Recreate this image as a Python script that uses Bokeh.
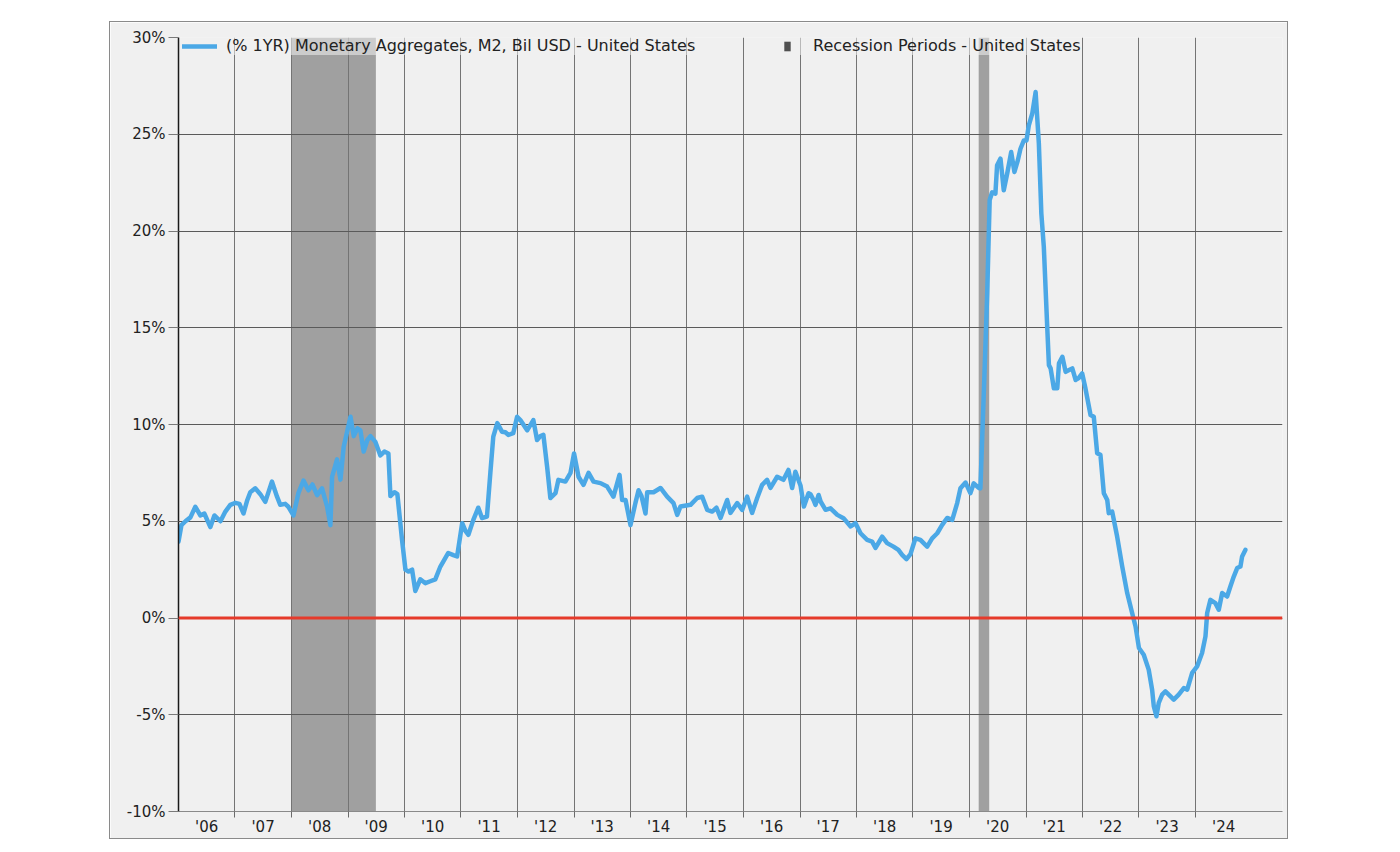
import re
import pandas as pd
from bokeh.plotting import figure
from bokeh.models import (Range1d, FixedTicker, CustomJSTickFormatter, Span,
                          Legend, LegendItem, ColumnDataSource)
from bokeh.embed import file_html
from bokeh.resources import INLINE

# ---------------- data ----------------
dates = [
    "2006-01-01", "2006-01-20", "2006-02-15", "2006-03-19", "2006-04-20", "2006-05-22", "2006-06-17",
    "2006-07-26", "2006-08-21", "2006-09-29", "2006-10-31", "2006-12-02",
    "2007-01-04", "2007-01-30", "2007-02-25", "2007-03-22", "2007-04-10", "2007-05-12", "2007-06-14",
    "2007-07-16", "2007-08-28", "2007-09-30", "2007-10-21", "2007-11-22", "2007-12-12",
    "2008-01-14", "2008-02-15", "2008-03-19", "2008-04-20", "2008-05-16", "2008-06-15", "2008-07-17",
    "2008-08-19", "2008-09-09", "2008-09-20", "2008-10-22", "2008-11-13", "2008-12-04",
    "2009-01-17", "2009-02-07", "2009-03-03", "2009-03-22", "2009-04-12", "2009-05-06", "2009-05-26",
    "2009-06-27", "2009-07-29", "2009-08-24", "2009-09-19", "2009-10-02", "2009-10-28", "2009-11-16",
    "2009-12-16",
    "2010-01-07", "2010-01-27", "2010-02-19", "2010-03-12", "2010-04-13", "2010-05-16", "2010-06-17",
    "2010-07-19", "2010-08-21", "2010-10-11", "2010-11-13", "2010-12-07",
    "2011-01-09", "2011-01-30", "2011-02-18", "2011-03-22", "2011-04-23", "2011-05-17", "2011-06-18",
    "2011-07-10", "2011-07-29", "2011-08-24", "2011-09-23", "2011-10-15", "2011-11-03", "2011-12-05",
    "2011-12-30",
    "2012-01-20", "2012-03-04", "2012-04-13", "2012-05-07", "2012-05-29", "2012-06-17", "2012-07-11",
    "2012-08-01", "2012-09-03", "2012-09-22", "2012-11-06", "2012-12-09",
    "2013-01-01", "2013-01-30", "2013-03-03", "2013-04-05", "2013-05-07", "2013-06-21", "2013-08-03",
    "2013-09-13", "2013-10-22", "2013-11-08", "2013-11-30",
    "2014-01-01", "2014-02-02", "2014-02-22", "2014-03-13", "2014-04-08", "2014-04-19", "2014-05-30",
    "2014-07-14", "2014-08-26", "2014-10-06", "2014-10-30", "2014-11-20",
    "2015-01-24", "2015-03-08", "2015-04-09", "2015-05-12", "2015-06-13", "2015-07-11", "2015-08-06",
    "2015-09-18", "2015-10-09", "2015-11-22", "2015-12-24",
    "2016-01-25", "2016-02-26", "2016-03-30", "2016-05-01", "2016-06-02", "2016-06-24", "2016-08-06",
    "2016-09-16", "2016-10-18", "2016-11-11", "2016-12-02",
    "2017-01-04", "2017-01-26", "2017-02-25", "2017-03-10", "2017-03-29", "2017-04-11", "2017-05-01",
    "2017-05-14", "2017-06-15", "2017-07-17", "2017-08-30", "2017-10-09", "2017-11-24", "2017-12-26",
    "2018-01-27", "2018-03-11", "2018-04-12", "2018-05-04", "2018-06-16", "2018-07-18", "2018-08-28",
    "2018-09-29", "2018-10-23", "2018-11-20", "2018-12-16",
    "2019-01-17", "2019-02-18", "2019-04-03", "2019-05-05", "2019-06-07", "2019-07-09", "2019-08-10",
    "2019-09-12", "2019-10-14", "2019-11-04", "2019-12-07",
    "2020-01-07", "2020-01-29", "2020-03-01", "2020-03-12", "2020-04-03", "2020-04-25", "2020-05-11",
    "2020-05-27", "2020-06-17", "2020-06-28", "2020-07-20", "2020-08-10", "2020-09-01", "2020-09-27",
    "2020-10-18", "2020-11-09", "2020-11-26", "2020-12-18",
    "2021-01-04", "2021-01-19", "2021-02-10", "2021-03-04", "2021-03-25", "2021-04-10", "2021-04-26",
    "2021-05-18", "2021-05-29", "2021-06-09", "2021-06-30", "2021-07-22", "2021-08-02", "2021-08-24",
    "2021-09-14", "2021-10-03", "2021-10-27", "2021-11-18", "2021-12-07", "2021-12-30",
    "2022-01-20", "2022-02-22", "2022-03-15", "2022-04-06", "2022-04-27", "2022-05-19", "2022-06-10",
    "2022-06-20", "2022-07-12", "2022-08-13", "2022-09-15", "2022-10-17", "2022-11-18", "2022-12-10",
    "2023-01-01", "2023-02-01", "2023-03-05", "2023-03-27", "2023-04-07", "2023-04-24", "2023-05-09",
    "2023-05-31", "2023-06-21", "2023-07-24", "2023-08-14", "2023-09-15", "2023-10-18", "2023-11-09",
    "2023-12-11",
    "2024-01-12", "2024-02-13", "2024-03-06", "2024-03-17", "2024-04-07", "2024-05-09", "2024-05-31",
    "2024-06-22", "2024-07-24", "2024-08-14", "2024-09-05", "2024-09-27", "2024-10-18", "2024-10-29",
    "2024-11-19",
]

m2_yoy = [
    3.95, 4.8, 5.0, 5.2, 5.75, 5.3, 5.4,
    4.7, 5.3, 5.0, 5.5, 5.85,
    5.95, 5.9, 5.4, 6.1, 6.5, 6.7, 6.4,
    6.0, 7.05, 6.27, 5.85, 5.9, 5.75,
    5.3, 6.45, 7.1, 6.6, 6.9, 6.35, 6.7,
    5.75, 4.8, 7.3, 8.2, 7.15, 8.85,
    10.4, 9.4, 9.8, 9.7, 8.6, 9.2, 9.4,
    9.1, 8.4, 8.6, 8.5, 6.3, 6.5, 6.4,
    4.04,
    2.5, 2.4, 2.5, 1.4, 2.0, 1.8, 1.9,
    2.0, 2.66, 3.36, 3.25, 3.18,
    4.9, 4.5, 4.3, 5.07, 5.7, 5.17, 5.24,
    7.5, 9.37, 10.07, 9.63, 9.6, 9.46, 9.55,
    10.4,
    10.23, 9.7, 10.23, 9.2, 9.4, 9.46, 7.82,
    6.2, 6.45, 7.14, 7.05, 7.5,
    8.5, 7.3, 6.88, 7.5, 7.05, 6.97, 6.79,
    6.27, 7.4, 6.1, 6.1,
    4.8, 5.95, 6.6, 6.3, 5.4, 6.5, 6.5,
    6.72, 6.27, 5.94, 5.33, 5.76,
    5.85, 6.2, 6.27, 5.59, 5.5, 5.7, 5.17,
    6.1, 5.43, 5.94, 5.59,
    6.27, 5.43, 6.2, 6.88, 7.14, 6.72, 7.3,
    7.14, 7.65, 6.72, 7.56,
    6.85, 5.76, 6.45, 6.4, 6.1, 5.85, 6.36,
    6.02, 5.59, 5.67, 5.33, 5.16, 4.73, 4.9,
    4.38, 4.04, 3.95, 3.62, 4.2, 3.87, 3.69,
    3.52, 3.26, 3.04, 3.3,
    4.12, 4.04, 3.69, 4.12, 4.38, 4.81, 5.17,
    5.07, 5.94, 6.7, 7.0,
    6.45, 6.96, 6.72, 6.7, 11.6, 16.77, 21.6,
    22.0, 21.93, 23.4, 23.74, 22.1, 22.96, 24.08,
    23.05, 23.65, 24.25, 24.68,
    24.68, 25.46, 26.06, 27.18, 24.5, 20.9, 19.18,
    15.05, 13.07, 12.9, 11.87, 11.87, 13.16, 13.5,
    12.72, 12.8, 12.9, 12.3, 12.4, 12.64,
    11.87, 10.49, 10.4, 8.51, 8.43, 6.45, 6.1,
    5.42, 5.5, 4.21, 2.66, 1.29, 0.26, -0.44,
    -1.55, -1.9, -2.67, -3.7, -4.56, -5.08, -4.39,
    -3.96, -3.79, -4.05, -4.22, -3.96, -3.62, -3.7,
    -2.84,
    -2.5, -1.81, -0.95, 0.26, 0.94, 0.77, 0.43,
    1.29, 1.11, 1.63, 2.14, 2.58, 2.66, 3.18,
    3.52,
]

recession_start = ["2007-12-31", "2020-03-01"]
recession_end = ["2009-06-30", "2020-05-08"]

label_years = list(range(2006, 2025))      # '06 ... '24
grid_years = list(range(2007, 2025))       # vertical grid at year starts
y_ticks = [-10, -5, 0, 5, 10, 15, 20, 25, 30]

series_label = "(% 1YR) Monetary Aggregates, M2, Bil USD - United States"
recession_label = "Recession Periods - United States"

# ---------------- figure ----------------
def ms(ts):
    return pd.Timestamp(ts).timestamp() * 1000.0

FONT = "DejaVu Sans"
PANEL = "#f0f0f0"

p = figure(
    width=1177, height=816,
    x_axis_type="datetime",
    x_range=Range1d(pd.Timestamp("2006-01-01"), pd.Timestamp("2025-07-17")),
    y_range=Range1d(-10, 30),
    output_backend="svg", toolbar_location=None,
    min_border_left=68, min_border_right=5, min_border_top=15, min_border_bottom=26,
    background_fill_color=PANEL, border_fill_color=PANEL,
    margin=(22, 0, 0, 110),
    styles={"outline": "1px solid #8a8a8a"},
)
p.outline_line_color = None

# recession shading (behind grid)
rec_src = ColumnDataSource(dict(
    left=pd.to_datetime(recession_start), right=pd.to_datetime(recession_end),
    bottom=[-10] * len(recession_start), top=[30] * len(recession_start)))
p.quad(left="left", right="right", bottom="bottom", top="top", source=rec_src,
       fill_color="#a0a0a0", line_color=None, level="image")

# zero-width proxy over the same periods, used only for the legend swatch
rec_proxy = p.quad(left="left", right="left", bottom="bottom", top="top", source=rec_src,
                   fill_color="#505050", line_color=None, level="image")

# main series
src = ColumnDataSource(dict(x=pd.to_datetime(dates), y=m2_yoy))
line_r = p.line("x", "y", source=src, line_color="#4ba8e6", line_width=4.5,
                line_join="round", line_cap="round")

# zero line
p.add_layout(Span(location=0, dimension="width", line_color="#e53a2b", line_width=3))

# ---------------- axes & grid ----------------
xaxis = p.xaxis[0]
xaxis.ticker = FixedTicker(ticks=[ms(f"{y}-07-02") for y in label_years],
                           minor_ticks=[ms(f"{y}-01-01") for y in grid_years])
xaxis.formatter = CustomJSTickFormatter(
    code="const d = new Date(tick); return \"'\" + String(d.getUTCFullYear()).slice(2);")
xaxis.major_tick_out = 0
xaxis.major_tick_in = 0
xaxis.minor_tick_out = 6
xaxis.minor_tick_in = 0
xaxis.minor_tick_line_color = "#6a6a6a"
xaxis.axis_line_color = "#8a8a8a"
xaxis.major_label_standoff = 0
xaxis.major_label_text_font = FONT
xaxis.major_label_text_font_size = "15px"
xaxis.major_label_text_color = "#222222"

yaxis = p.yaxis[0]
yaxis.ticker = FixedTicker(ticks=y_ticks, minor_ticks=[])
yaxis.formatter = CustomJSTickFormatter(code="return tick + '%';")
yaxis.major_tick_out = 10
yaxis.major_tick_in = 0
yaxis.major_tick_line_color = "#7a7a7a"
yaxis.minor_tick_out = 0
yaxis.minor_tick_in = 0
yaxis.axis_line_color = "#1a1a1a"
yaxis.axis_line_width = 1.5
yaxis.major_label_standoff = 3
yaxis.major_label_text_font = FONT
yaxis.major_label_text_font_size = "15px"
yaxis.major_label_text_color = "#222222"

p.xgrid.ticker = FixedTicker(ticks=[ms(f"{y}-01-01") for y in grid_years])
p.xgrid.grid_line_color = "#747474"
p.xgrid.grid_line_width = 1
p.ygrid.ticker = FixedTicker(ticks=y_ticks)
p.ygrid.grid_line_color = "#5a5a5a"
p.ygrid.grid_line_width = 1

# ---------------- legends ----------------
def make_legend(items, loc, glyph_w, glyph_h, standoff):
    return Legend(items=items, location=loc, orientation="horizontal",
                  padding=5, margin=0, spacing=0,
                  glyph_width=glyph_w, glyph_height=glyph_h, label_standoff=standoff,
                  label_text_font=FONT, label_text_font_size="16px",
                  label_text_color="#222222",
                  background_fill_color=PANEL, background_fill_alpha=0.55,
                  border_line_color=None)

leg1 = make_legend([LegendItem(label=series_label, renderers=[line_r])], (4, 756), 35, 14, 9)
leg2 = make_legend([LegendItem(label=recession_label, renderers=[rec_proxy])], (605, 756), 8, 12, 22)
p.add_layout(leg1)
p.add_layout(leg2)

html = file_html(p, INLINE)
html = re.sub(r"<body([^>]*)>", r'<body\1 style="background-color:#d9d9d9;">', html, count=1)
open("out.html", "w").write(html)
